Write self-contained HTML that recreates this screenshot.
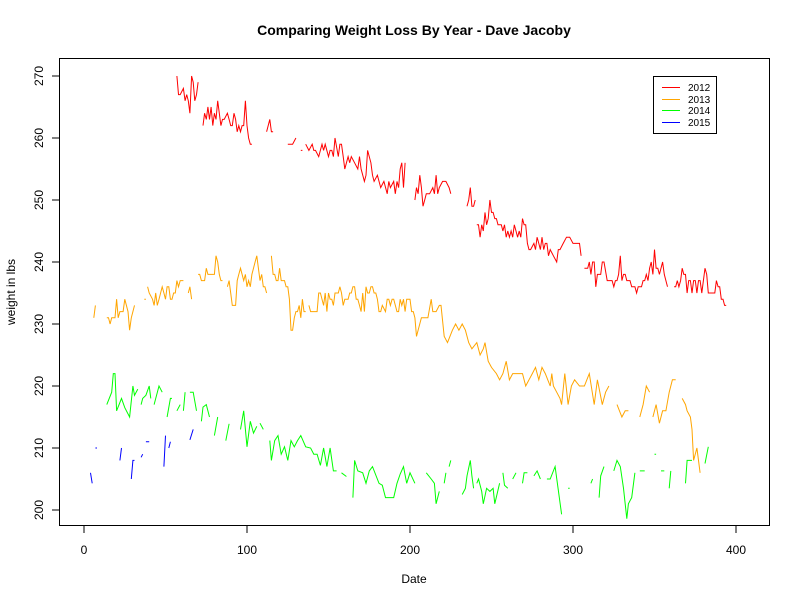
<!DOCTYPE html>
<html><head><meta charset="utf-8"><style>
html,body{margin:0;padding:0;background:#fff;}
svg{display:block;font-family:"Liberation Sans",sans-serif;}
</style></head><body>
<svg id="chart" width="800" height="600" viewBox="0 0 800 600">
<text x="414" y="35" text-anchor="middle" font-size="14" font-weight="bold">Comparing Weight Loss By Year - Dave Jacoby</text>
<text x="414" y="583" text-anchor="middle" font-size="12">Date</text>
<text transform="translate(15,292) rotate(-90)" text-anchor="middle" font-size="12">weight in lbs</text>
<g id="series"></g>
<g id="axes"></g>
<rect x="59.5" y="58.5" width="710" height="467" fill="none" stroke="#000" stroke-width="1"/>
<g>
<rect x="653.5" y="76.5" width="63" height="57" fill="#fff" stroke="#000"/>
<g><line x1="662" x2="680" y1="87.5" y2="87.5" stroke="#f00"/><text x="688" y="91" font-size="10">2012</text></g>
<g><line x1="662" x2="680" y1="99.5" y2="99.5" stroke="#ffa500"/><text x="688" y="103" font-size="10">2013</text></g>
<g><line x1="662" x2="680" y1="110.5" y2="110.5" stroke="#0f0"/><text x="688" y="114" font-size="10">2014</text></g>
<g><line x1="662" x2="680" y1="122.5" y2="122.5" stroke="#00f"/><text x="688" y="126" font-size="10">2015</text></g>
</g>
</svg>
<script>
const xTicks = [0, 100, 200, 300, 400];
const yTicks = [200, 210, 220, 230, 240, 250, 260, 270];
const seriesYears = ["2012", "2013", "2014", "2015"];
const seriesColors = ["#ff0000", "#ffa500", "#00ff00", "#0000ff"];

const days2012 = [57,58,59,61,62,63,64,65,66,67,68,69,70,null,73,74,75,76,77,78,79,80,81,82,83,84,85,86,88,89,90,91,92,93,94,95,96,97,98,99,100,101,102,103,null,112,114,115,116,null,125,128,130,null,133,134,null,136,138,140,141,142,144,146,147,148,150,151,152,153,154,156,157,158,159,160,162,163,164,166,168,169,170,172,173,174,176,177,178,180,182,184,186,187,188,190,191,192,193,194,195,196,197,null,203,204,205,206,207,208,209,210,212,214,215,216,217,218,220,222,224,225,null,235,236,237,238,239,240,null,241,242,243,244,245,246,247,248,249,250,251,252,253,254,256,257,258,259,260,261,262,263,264,265,266,267,268,269,270,271,272,273,274,276,277,278,279,280,281,282,283,284,285,286,288,290,291,292,294,296,298,300,302,304,305,null,307,309,310,311,312,313,314,315,317,318,319,321,322,324,325,326,327,328,329,330,331,332,333,335,336,338,339,340,341,342,343,344,345,346,347,348,349,350,351,352,353,354,355,356,357,358,null,362,363,364,365,366,367,368,369,370,371,372,373,374,375,376,377,378,379,380,381,382,383,385,387,388,389,390,391,392,393,394];
const weights2012 = [270,267,267,268,266,267,266,264,270,269,266,267,269,null,262,264,263,265,263,265,262,264,263,266,264,262,263,263,264,263,262,262,264,263,261,262,261,262,262,266,262,260,259,259,null,261,263,261,261,null,259,259,260,null,258,258,null,259,258,259,258,258,257,259,258,259,257,258,258,257,260,257,259,259,257,255,257,256,257,256,255,257,255,253,254,258,256,254,253,254,252,253,251,253,252,253,251,253,252,255,256,252,256,null,250,252,251,254,252,249,250,251,251,252,251,254,251,252,253,253,252,251,null,249,250,252,249,249,250,null,246,246,244,246,245,248,246,247,250,248,248,247,247,246,246,245,246,244,245,244,245,244,246,245,244,245,244,247,246,246,243,242,242,243,242,244,243,242,244,242,243,243,241,242,241,240,242,242,243,244,244,243,243,243,241,null,239,239,240,238,240,240,236,238,238,240,240,237,237,237,236,237,237,238,241,237,238,238,237,237,236,236,235,236,236,236,237,237,238,237,239,240,238,242,239,239,238,239,240,238,237,236,null,236,236,237,236,237,239,238,238,235,237,237,235,237,237,235,237,237,235,237,239,238,235,235,235,237,236,236,234,234,233,233];

const days2013 = [6,7,null,14,15,16,17,18,19,20,21,22,23,24,25,26,27,28,29,30,31,null,37,38,null,39,40,42,43,44,45,46,47,48,49,50,51,52,53,54,55,56,57,58,59,60,61,null,64,65,66,null,70,71,72,73,74,75,76,78,79,80,81,82,83,84,85,null,88,89,90,91,92,93,94,95,96,97,98,99,100,101,102,103,104,105,106,107,108,109,110,111,112,null,115,116,117,118,119,120,121,122,123,124,125,126,127,128,129,130,131,132,133,134,135,136,null,138,139,140,141,143,144,145,146,147,148,149,150,151,152,153,154,155,156,157,158,159,160,161,162,163,164,165,166,167,168,169,170,171,172,173,174,175,176,177,178,179,180,181,182,183,185,186,187,188,189,190,192,193,194,195,196,197,198,200,201,202,203,204,207,209,211,213,214,216,218,219,221,223,226,228,230,232,234,236,238,241,243,245,246,248,250,253,255,257,259,261,263,266,269,271,273,275,277,279,281,283,286,287,288,290,292,293,295,297,299,301,304,307,310,313,315,318,320,322,324,327,330,332,334,336,338,null,341,343,345,347,null,349,351,353,355,357,359,361,363,365,367,369,370,372,373,374,376,378,null,381,383,385,387,389,391,392,393,394,395];
const weights2013 = [231,233,null,231,231,230,231,231,231,234,231,232,232,232,234,233,232,229,231,232,233,null,234,234,null,236,235,234,233,235,233,234,235,236,235,234,236,236,234,234,235,235,237,236,237,237,237,null,235,236,234,null,238,238,237,237,237,239,238,238,238,238,241,240,238,237,237,null,236,237,235,233,233,233,237,238,239,238,237,238,236,237,236,238,239,240,241,239,237,238,236,236,235,null,241,238,238,237,237,239,237,237,237,236,236,234,229,229,231,232,232,233,231,234,232,232,null,233,232,232,232,232,235,235,234,233,235,232,235,234,234,233,235,235,235,236,235,233,234,234,234,235,235,236,236,234,234,233,232,235,232,236,235,235,236,236,235,235,234,232,232,233,232,234,234,233,234,234,232,232,234,233,234,232,234,234,232,232,231,228,231,231,231,234,232,232,233,233,228,227,229,230,229,230,229,227,226,227,225,226,227,224,223,222,221,222,224,221,222,222,222,220,221,222,223,221,223,222,220,222,220,219,218,217,222,217,220,221,220,220,222,217,221,217,219,220,null,217,215,216,216,null,213,216,215,217,220,219,216,215,217,214,216,216,219,221,221,null,218,217,216,215,213,208,210,206,206,208];

const days2014 = [14,17,18,19,20,23,25,28,30,31,33,null,35,36,38,40,41,null,43,46,48,null,51,53,54,null,57,59,null,61,62,null,65,67,69,null,72,73,75,77,null,80,82,null,87,89,null,96,98,100,102,104,106,null,108,110,null,114,115,117,119,121,123,125,127,129,131,133,136,139,141,143,145,147,149,151,153,155,null,158,161,null,165,166,168,171,173,175,177,181,183,185,190,192,194,196,198,200,203,null,210,213,215,216,218,null,221,222,null,224,225,null,232,234,235,237,238,239,null,241,242,244,245,247,249,251,252,255,null,257,258,260,null,263,265,null,269,270,272,null,276,278,280,null,284,286,289,293,null,297,298,null,311,312,null,316,317,319,null,325,327,329,331,333,334,336,338,null,341,344,null,350,351,null,354,356,null,359,360,null,369,370,373,null,381,383];
const weights2014 = [217,219,222,222,216,218,216.5,215,220,218.5,219.5,null,217,218,218.5,220,218,null,217,220,219,null,215,218,218,null,216,217,null,216,219,null,219,219,216,null,214.3,216.6,217,215,null,212,215,null,211.2,213.9,null,213,216,210.2,214.3,212.4,213.5,null,214,213,null,211.2,208,211.2,212,209,210.2,208,211.2,210.2,211.2,212,210.2,210,209,209,207.2,210,207,210,206.3,206.3,null,206,205.4,null,202,208,206.3,206,204.3,206.3,207,204.3,204,202,202,204.3,205.8,207,204.3,206,204.3,null,206,205,204.3,201,203,null,204.3,206,null,207,208,null,202.5,203.5,205.5,208,205.5,203.5,null,204.3,205,203,201,203.5,203,203.5,201,204.3,null,206,204,203.5,null,205,206,null,204.3,206,206,null,205.5,206.3,205,null,205,205,207,199.3,null,203.5,203.5,null,204.3,205,null,202,205.5,207,null,206.3,208,207,203.5,198.6,201,202,206,null,206.3,206.3,null,209,209,null,206.3,206.3,null,203.5,206.3,null,204.3,208,208,null,207.5,210.2];

const days2015 = [4,5,null,7,8,null,22,23,null,29,30,31,null,35,36,null,38,40,null,49,50,null,52,53,null,65,67];
const weights2015 = [206,204.3,null,210,210,null,208,210,null,205,208,208,null,208.5,209,null,211,211,null,207,212,null,210,211,null,211.3,213];

const seriesDays = [days2012, days2013, days2014, days2015];
const seriesWeights = [weights2012, weights2013, weights2014, weights2015];

const NS = "http://www.w3.org/2000/svg";
const X0 = 84, XPX = 1.63, Y0 = 76, YPX = 6.2, YTOP = 270;
function xScale(d){ return X0 + d * XPX; }
function yScale(v){ return Y0 + (YTOP - v) * YPX; }

const axes = document.getElementById("axes");
xTicks.forEach(function(t){
  const l = document.createElementNS(NS, "line");
  l.setAttribute("x1", xScale(t)); l.setAttribute("x2", xScale(t));
  l.setAttribute("y1", 526); l.setAttribute("y2", 533);
  l.setAttribute("stroke", "#000");
  
  
  axes.appendChild(l);
  const tx = document.createElementNS(NS, "text");
  tx.setAttribute("x", xScale(t)); tx.setAttribute("y", 554);
  tx.setAttribute("text-anchor", "middle"); tx.setAttribute("font-size", "12");
  tx.textContent = t;
  
  
  axes.appendChild(tx);
});
yTicks.forEach(function(t){
  const y = yScale(t);
  const l = document.createElementNS(NS, "line");
  l.setAttribute("x1", 52); l.setAttribute("x2", 59);
  l.setAttribute("y1", y); l.setAttribute("y2", y);
  l.setAttribute("stroke", "#000");
  
  
  axes.appendChild(l);
  const tx = document.createElementNS(NS, "text");
  tx.setAttribute("transform", "translate(43," + y + ") rotate(-90)");
  tx.setAttribute("text-anchor", "middle"); tx.setAttribute("font-size", "12");
  tx.textContent = t;
  
  
  axes.appendChild(tx);
});

const sg = document.getElementById("series");
seriesDays.forEach(function(days, si){
  const vals = seriesWeights[si];
  let d = "", pen = false;
  for (let i = 0; i < days.length; i++) {
    if (days[i] === null || vals[i] === null) { pen = false; continue; }
    d += (pen ? "L" : "M") + xScale(days[i]).toFixed(1) + " " + yScale(vals[i]).toFixed(1);
    pen = true;
  }
  const p = document.createElementNS(NS, "path");
  p.setAttribute("d", d);
  p.setAttribute("fill", "none");
  p.setAttribute("stroke", seriesColors[si]);
  p.setAttribute("stroke-width", "1");
  
  
  sg.appendChild(p);
});
</script>
</body></html>
